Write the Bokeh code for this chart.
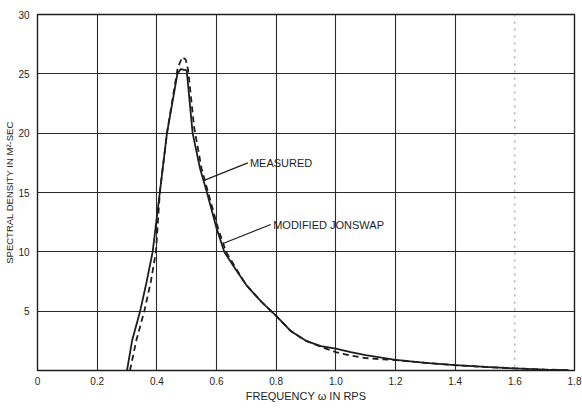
from bokeh.plotting import figure
from bokeh.models import Label, FixedTicker, Span
from bokeh.embed import file_html
from bokeh.resources import INLINE

# ---- data ----
freq_measured = [0.30, 0.317, 0.344, 0.366, 0.386, 0.41, 0.434, 0.469, 0.48, 0.50, 0.52,
                 0.545, 0.568, 0.60, 0.626, 0.665, 0.70, 0.75, 0.80, 0.85, 0.90, 0.95,
                 1.00, 1.05, 1.10, 1.20, 1.30, 1.40, 1.50, 1.60, 1.70, 1.78]
sd_measured = [0.0, 2.5, 5.0, 7.5, 10.0, 15.0, 20.0, 25.0, 25.4, 25.3, 20.0,
               17.0, 15.0, 12.0, 10.0, 8.5, 7.2, 5.8, 4.6, 3.3, 2.5, 2.05,
               1.85, 1.55, 1.3, 0.9, 0.65, 0.45, 0.3, 0.18, 0.08, 0.02]

freq_jonswap = [0.31, 0.331, 0.358, 0.38, 0.397, 0.41, 0.434, 0.46, 0.47, 0.485, 0.497,
                0.505, 0.525, 0.55, 0.572, 0.605, 0.632, 0.67, 0.70, 0.75, 0.80, 0.85,
                0.90, 0.95, 1.00, 1.05, 1.10, 1.15, 1.20, 1.30, 1.40, 1.50, 1.60, 1.70, 1.78]
sd_jonswap = [0.0, 2.5, 5.0, 7.5, 10.0, 15.0, 20.0, 24.0, 25.5, 26.4, 26.2,
              25.3, 20.5, 17.0, 15.0, 12.0, 10.0, 8.4, 7.2, 5.8, 4.6, 3.3,
              2.5, 2.0, 1.55, 1.25, 1.05, 0.95, 0.88, 0.65, 0.45, 0.3, 0.18, 0.08, 0.02]

x_ticks = [0, 0.2, 0.4, 0.6, 0.8, 1.0, 1.2, 1.4, 1.6, 1.8]
x_tick_labels = ["0", "0.2", "0.4", "0.6", "0.8", "1.0", "1.2", "1.4", "1.6", "1.8"]
y_ticks = [0, 5, 10, 15, 20, 25, 30]
y_tick_labels = ["", "5", "10", "15", "20", "25", "30"]
x_grid = [0.2, 0.4, 0.6, 0.8, 1.0, 1.2, 1.4]
x_faint_grid = [1.6]
y_grid = [5, 10, 15, 20, 25]

x_title = "FREQUENCY \u03c9 IN RPS"
y_title = "SPECTRAL DENSITY IN M\u00b2-SEC"

FONT = "Liberation Sans"
INK = "#1e1e1e"

p = figure(width=582, height=409, x_range=(0, 1.8), y_range=(0, 30),
           output_backend="svg", toolbar_location=None,
           min_border_left=37, min_border_right=8, min_border_top=14, min_border_bottom=39)

p.background_fill_color = "white"
p.border_fill_color = "white"
p.outline_line_color = INK
p.outline_line_width = 1.4

# grid
p.xgrid.ticker = FixedTicker(ticks=x_grid)
p.ygrid.ticker = FixedTicker(ticks=y_grid)
for g in (p.xgrid, p.ygrid):
    g.grid_line_color = "#2a2a2a"
    g.grid_line_width = 1.1
    g.grid_line_alpha = 1.0
for loc in x_faint_grid:
    p.add_layout(Span(location=loc, dimension="height", line_color="#8a8a8a",
                      line_width=1, line_dash="2 5"))

# axes
p.xaxis.ticker = FixedTicker(ticks=x_ticks)
p.xaxis.major_label_overrides = {t: l for t, l in zip(x_ticks, x_tick_labels)}
p.yaxis.ticker = FixedTicker(ticks=y_ticks)
p.yaxis.major_label_overrides = {t: l for t, l in zip(y_ticks, y_tick_labels)}
for ax in (p.xaxis, p.yaxis):
    ax.axis_line_color = None
    ax.major_tick_line_color = None
    ax.minor_tick_line_color = None
    ax.major_label_text_font = FONT
    ax.major_label_text_font_size = "10px"
    ax.major_label_text_color = INK
    ax.axis_label_text_font = FONT
    ax.axis_label_text_font_style = "normal"
    ax.axis_label_text_color = INK

p.xaxis.axis_label = x_title
p.xaxis.axis_label_text_font_size = "11px"
p.xaxis.major_label_standoff = 0
p.xaxis.axis_label_standoff = 2

p.yaxis.axis_label = y_title
p.yaxis.axis_label_text_font_size = "9.5px"
p.yaxis.major_label_standoff = 2
p.yaxis.axis_label_standoff = 0

# curves
p.line(freq_measured, sd_measured, line_color=INK, line_width=1.8)
p.line(freq_jonswap, sd_jonswap, line_color=INK, line_width=1.8, line_dash="6 4")

# annotations with leader lines
p.line([0.556, 0.705], [16.0, 17.5], line_color=INK, line_width=1.2)
p.add_layout(Label(x=0.712, y=17.5, text="MEASURED", text_font=FONT,
                   text_font_size="11px", text_color=INK, text_baseline="middle"))
p.line([0.622, 0.782], [10.7, 12.3], line_color=INK, line_width=1.2)
p.add_layout(Label(x=0.79, y=12.3, text="MODIFIED JONSWAP", text_font=FONT,
                   text_font_size="11px", text_color=INK, text_baseline="middle"))

open("out.html", "w").write(file_html(p, INLINE))
